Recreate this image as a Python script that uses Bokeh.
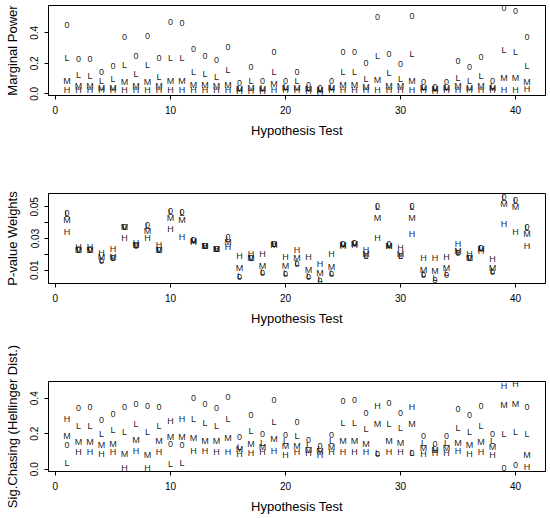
from bokeh.plotting import figure
from bokeh.layouts import column
from bokeh.models import ColumnDataSource, Range1d, FixedTicker
from bokeh.core.properties import value
from bokeh.embed import file_html
from bokeh.resources import INLINE

FONT = "Liberation Sans"

tests = list(range(1, 42))
letters = ["0", "L", "M", "H"]

# ---- Panel 1: Marginal Power ----
power_0 = [0.454, 0.227, 0.229, 0.146, 0.181, 0.371, 0.249, 0.378, 0.233, 0.468,
           0.465, 0.297, 0.251, 0.225, 0.310, 0.070, 0.174, 0.081, 0.273, 0.081,
           0.142, 0.059, 0.040, 0.081, 0.273, 0.273, 0.201, 0.502, 0.262, 0.197,
           0.507, 0.077, 0.048, 0.077, 0.212, 0.174, 0.240, 0.087, 0.564, 0.546, 0.371]
power_L = [0.233, 0.122, 0.118, 0.081, 0.094, 0.190, 0.127, 0.186, 0.113, 0.238,
           0.233, 0.146, 0.131, 0.113, 0.153, 0.040, 0.087, 0.040, 0.142, 0.048,
           0.087, 0.038, 0.030, 0.048, 0.142, 0.142, 0.096, 0.251, 0.135, 0.094,
           0.262, 0.048, 0.035, 0.048, 0.102, 0.087, 0.120, 0.050, 0.288, 0.277, 0.181]
power_M = [0.087, 0.052, 0.052, 0.040, 0.040, 0.079, 0.052, 0.079, 0.052, 0.087,
           0.087, 0.061, 0.056, 0.052, 0.061, 0.030, 0.035, 0.030, 0.066, 0.038,
           0.040, 0.030, 0.026, 0.040, 0.061, 0.061, 0.048, 0.092, 0.054, 0.054,
           0.087, 0.040, 0.030, 0.040, 0.054, 0.040, 0.054, 0.040, 0.102, 0.102, 0.076]
power_H = [0.026, 0.026, 0.026, 0.022, 0.022, 0.026, 0.026, 0.026, 0.026, 0.026,
           0.026, 0.022, 0.022, 0.022, 0.022, 0.018, 0.017, 0.017, 0.028, 0.022,
           0.022, 0.017, 0.015, 0.022, 0.026, 0.026, 0.026, 0.026, 0.026, 0.026,
           0.026, 0.022, 0.017, 0.022, 0.026, 0.022, 0.026, 0.022, 0.026, 0.026, 0.030]

# ---- Panel 2: P-value Weights ----
weight_0 = [0.0460, 0.0225, 0.0225, 0.0157, 0.0174, 0.0373, 0.0252, 0.0386, 0.0225, 0.0475,
            0.0470, 0.0290, 0.0255, 0.0231, 0.0310, 0.0056, 0.0178, 0.0083, 0.0265, 0.0077,
            0.0136, 0.0056, 0.0034, 0.0077, 0.0267, 0.0274, 0.0189, 0.0506, 0.0263, 0.0189,
            0.0508, 0.0068, 0.0040, 0.0072, 0.0210, 0.0174, 0.0238, 0.0087, 0.0563, 0.0542, 0.0373]
weight_L = [0.0452, 0.0225, 0.0225, 0.0165, 0.0180, 0.0372, 0.0256, 0.0378, 0.0225, 0.0467,
            0.0462, 0.0288, 0.0254, 0.0232, 0.0300, 0.0064, 0.0178, 0.0091, 0.0264, 0.0085,
            0.0144, 0.0064, 0.0042, 0.0085, 0.0265, 0.0270, 0.0192, 0.0498, 0.0260, 0.0192,
            0.0500, 0.0076, 0.0048, 0.0080, 0.0214, 0.0177, 0.0237, 0.0095, 0.0555, 0.0534, 0.0365]
weight_M = [0.0417, 0.0225, 0.0225, 0.0183, 0.0183, 0.0370, 0.0262, 0.0348, 0.0225, 0.0432,
            0.0415, 0.0285, 0.0252, 0.0232, 0.0280, 0.0115, 0.0180, 0.0125, 0.0262, 0.0125,
            0.0174, 0.0104, 0.0083, 0.0119, 0.0262, 0.0265, 0.0200, 0.0428, 0.0255, 0.0200,
            0.0432, 0.0104, 0.0094, 0.0115, 0.0220, 0.0180, 0.0235, 0.0115, 0.0517, 0.0496, 0.0331]
weight_H = [0.0341, 0.0246, 0.0246, 0.0210, 0.0235, 0.0305, 0.0274, 0.0305, 0.0259, 0.0358,
            0.0312, 0.0278, 0.0255, 0.0234, 0.0246, 0.0187, 0.0200, 0.0200, 0.0263, 0.0183,
            0.0227, 0.0183, 0.0140, 0.0204, 0.0255, 0.0260, 0.0225, 0.0305, 0.0250, 0.0242,
            0.0331, 0.0174, 0.0174, 0.0183, 0.0263, 0.0204, 0.0220, 0.0168, 0.0390, 0.0343, 0.0252]

# ---- Panel 3: Sig.Chasing (Hellinger Dist.) ----
chase_0 = [0.138, 0.347, 0.350, 0.277, 0.309, 0.350, 0.366, 0.356, 0.350, 0.144,
           0.138, 0.400, 0.366, 0.347, 0.409, 0.182, 0.303, 0.201, 0.388, 0.195,
           0.265, 0.167, 0.133, 0.195, 0.384, 0.388, 0.318, 0.085, 0.371, 0.318,
           0.091, 0.189, 0.144, 0.189, 0.337, 0.303, 0.356, 0.201, 0.006, 0.021, 0.352]
chase_L = [0.034, 0.246, 0.246, 0.199, 0.218, 0.210, 0.256, 0.208, 0.242, 0.030,
           0.034, 0.280, 0.261, 0.246, 0.284, 0.125, 0.214, 0.148, 0.265, 0.157,
           0.189, 0.138, 0.112, 0.157, 0.261, 0.261, 0.227, 0.090, 0.252, 0.233,
           0.091, 0.148, 0.118, 0.148, 0.233, 0.210, 0.246, 0.161, 0.201, 0.210, 0.201]
chase_M = [0.189, 0.153, 0.153, 0.134, 0.144, 0.087, 0.167, 0.081, 0.157, 0.180,
           0.182, 0.176, 0.157, 0.157, 0.176, 0.115, 0.144, 0.123, 0.170, 0.129,
           0.133, 0.110, 0.100, 0.125, 0.161, 0.161, 0.144, 0.252, 0.157, 0.148,
           0.252, 0.119, 0.110, 0.119, 0.148, 0.134, 0.153, 0.123, 0.362, 0.366, 0.078]
chase_H = [0.280, 0.098, 0.098, 0.087, 0.098, 0.004, 0.104, 0.004, 0.098, 0.271,
           0.284, 0.104, 0.104, 0.098, 0.098, 0.087, 0.091, 0.095, 0.100, 0.081,
           0.095, 0.091, 0.081, 0.095, 0.095, 0.095, 0.095, 0.356, 0.095, 0.095,
           0.352, 0.085, 0.091, 0.091, 0.100, 0.087, 0.095, 0.081, 0.470, 0.479, 0.011]

x_ticks = [0, 10, 20, 30, 40]


def make_panel(series, ylabel, yrange, yticks, ylabels, height, top, bottom):
    p = figure(width=548, height=height, output_backend="svg", toolbar_location=None,
               x_range=Range1d(-0.6, 42.6), y_range=Range1d(*yrange),
               min_border_left=48, min_border_right=3,
               min_border_top=top, min_border_bottom=bottom,
               background_fill_color="white", border_fill_color="white")
    for lab, vals in zip(letters, series):
        src = ColumnDataSource(dict(x=tests, y=vals, t=[lab] * len(tests)))
        p.text(x="x", y="y", text="t", source=src, text_align="center",
               text_baseline="middle", text_font=value(FONT),
               text_font_size=value("9px"), text_color="#111111",
               text_alpha=0.99)
    p.xgrid.visible = False
    p.ygrid.visible = False
    p.outline_line_color = "black"
    p.outline_line_width = 1
    p.outline_line_alpha = 1.0
    for ax in (p.xaxis[0], p.yaxis[0]):
        ax.axis_line_color = "black"
        ax.major_tick_line_color = "black"
        ax.major_tick_out = 4
        ax.major_tick_in = 0
        ax.minor_tick_line_color = None
        ax.major_label_text_font = FONT
        ax.major_label_text_font_size = "10px"
        ax.major_label_text_color = "black"
        ax.major_label_standoff = 6
        ax.axis_label_text_font = FONT
        ax.axis_label_text_font_size = "13px"
        ax.axis_label_text_font_style = "normal"
        ax.axis_label_text_color = "black"
    p.xaxis.ticker = FixedTicker(ticks=x_ticks)
    p.xaxis.axis_label = "Hypothesis Test"
    p.xaxis.axis_label_standoff = 6
    p.yaxis.ticker = FixedTicker(ticks=yticks)
    p.yaxis.major_label_overrides = dict(zip(yticks, ylabels))
    p.yaxis.major_label_orientation = "vertical"
    p.yaxis.axis_label = ylabel
    p.yaxis.axis_label_standoff = 8
    return p


p1 = make_panel([power_0, power_L, power_M, power_H], "Marginal Power",
                (-0.011, 0.579), [0.0, 0.2, 0.4], ["0.0", "0.2", "0.4"],
                height=172, top=5, bottom=77)
p2 = make_panel([weight_0, weight_L, weight_M, weight_H], "P-value Weights",
                (0.0016, 0.0584), [0.01, 0.02, 0.03, 0.04, 0.05],
                ["0.01", "", "0.03", "", "0.05"],
                height=172, top=21, bottom=61)
p3 = make_panel([chase_0, chase_L, chase_M, chase_H], "Sig.Chasing (Hellinger Dist.)",
                (-0.013, 0.494), [0.0, 0.2, 0.4], ["0.0", "0.2", "0.4"],
                height=172, top=37, bottom=45)

layout = column(p1, p2, p3, spacing=0)
open("out.html", "w").write(file_html(layout, INLINE))
